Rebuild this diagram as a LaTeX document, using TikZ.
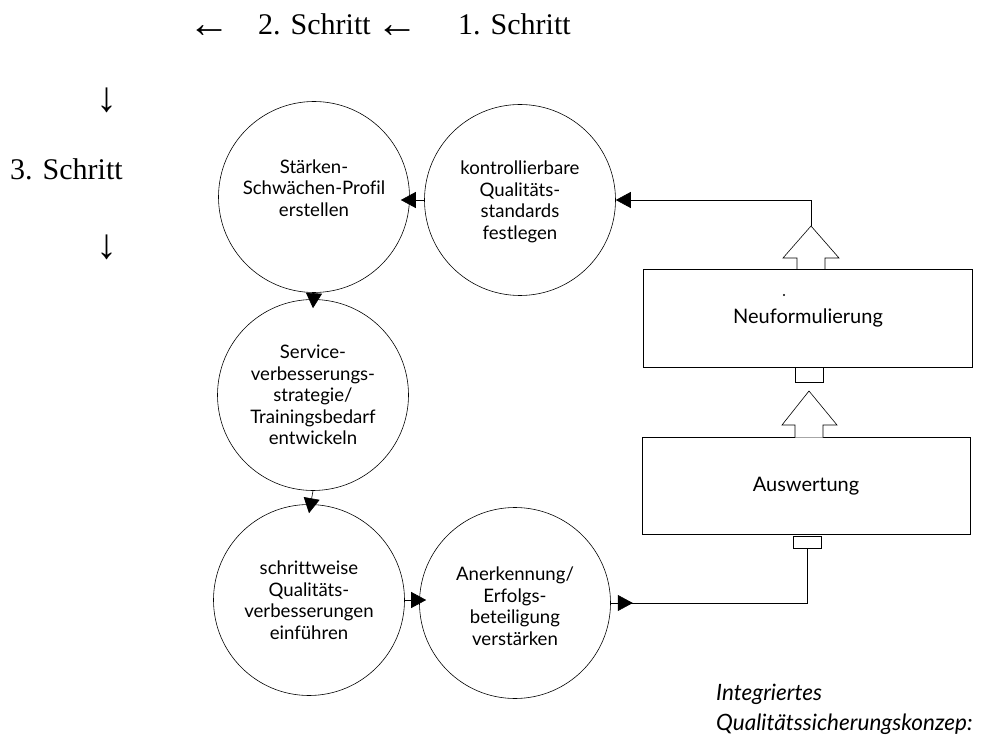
\documentclass[tikz,border=0pt]{standalone}
\usepackage{fontspec}
\setmainfont{Liberation Serif}
\newfontfamily\diag[Ligatures=NoCommon]{Lato}
\usetikzlibrary{arrows.meta,calc}
\begin{document}
\begin{tikzpicture}[x=1pt,y=-1pt,
  stepcirc/.style={circle,draw,line width=0.6pt,minimum size=191pt,inner sep=0pt},
  circtext/.style={align=center,inner sep=0pt,font=\diag\fontsize{18.6}{21.5}\selectfont},
  bigbox/.style={draw,line width=0.6pt,inner sep=0pt,font=\diag\fontsize{20}{24}\selectfont},
  tabbox/.style={draw,line width=0.6pt,inner sep=0pt,minimum width=28pt},
  conn/.style={line width=0.6pt},
  tipped/.style={-{Triangle[length=15pt,width=16pt]}},
  hollow/.style={draw,line width=0.6pt,fill=white},
  steptext/.style={font=\fontsize{30}{34}\selectfont,inner sep=0pt,anchor=base west},
  steparrow/.style={font=\fontsize{42}{46}\selectfont,inner sep=0pt},
  harrow/.style={steparrow,anchor=base,text height=16pt,text depth=0pt},
  captext/.style={font=\diag\itshape\fontsize{22.5}{26}\selectfont,inner sep=0pt,anchor=base west}]
\useasboundingbox (0,0) rectangle (1002,735);

% step labels
\node[harrow] (s2arrow) at (209,38) {←};
\node[steptext] (s2) at (258,35) {2. Schritt};
\node[harrow] (s1arrow) at (397,38) {←};
\node[steptext] (s1) at (458,35) {1. Schritt};
\node[steparrow] (d1) at (107,100) {↓};
\node[steptext] (s3) at (10,180) {3. Schritt};
\node[steparrow] (d2) at (107,247) {↓};

% circles
\node[stepcirc] (c1) at (314,197) {};
\node[stepcirc] (c2) at (520,200) {};
\node[stepcirc] (c3) at (313,395) {};
\node[stepcirc] (c4) at (309,600) {};
\node[stepcirc] (c5) at (515,603) {};

\node[circtext] (t1) at ($(c1)+(0,-9)$) {Stärken-\\Schwächen-Profil\\erstellen};
\node[circtext] (t2) at ($(c2)+(0,2)$) {kontrollierbare\\Qualitäts-\\standards\\festlegen};
\node[circtext] (t3) at (c3) {Service-\\verbesserungs-\\strategie/\\Trainingsbedarf\\entwickeln};
\node[circtext] (t4) at (c4) {schrittweise\\Qualitäts-\\verbesserungen\\einführen};
\node[circtext] (t5) at ($(c5)+(0,3)$) {Anerkennung/\\Erfolgs-\\beteiligung\\verstärken};

% boxes
\node[bigbox,minimum width=329pt,minimum height=98pt] (neu) at (808,318) {Neuformulierung};
\node[bigbox,minimum width=328pt,minimum height=97pt] (aw) at (806,486) {Auswertung};
\node[tabbox,minimum height=15pt,anchor=north] (ntab) at (809,367) {};
\node[tabbox,minimum height=12pt,anchor=north] (awtab) at (807.5,535.5) {};
\fill (784,295) circle (1.1pt);

% hollow arrows
\coordinate (a1tip) at (809,391);
\draw[hollow] (795,437.5) -- (795,425) -- (782,425) -- (a1tip) -- (837,425) -- (823,425) -- (823,437.5);
\coordinate (a2tip) at (811,226);
\draw[hollow] (797,269) -- (797,258) -- (783,258) -- (a2tip) -- (839,258) -- (825,258) -- (825,269);

% connectors
\draw[conn,tipped] (c2.west) -- ($(c1.east |- c2.west)+(-9,0)$);
\draw[conn,tipped] (c1.south) -- ($(c3.north)+(0,9)$);
\draw[conn,tipped] (c3.south) -- ($(c4.north)+(0,9)$);
\draw[conn,tipped] (c4.east) -- ($(c5.west |- c4.east)+(7,0)$);
\draw[conn] (c5.east) -| (awtab.south);
\draw[conn,tipped] (c5.east) -- ++(22,0);
\draw[conn,tipped] (a2tip) |- (c2.east);

% caption
\node[captext] (cap1) at (716,700) {Integriertes};
\node[captext] (cap2) at (716,730) {Qualitätssicherungskonzep:};
\end{tikzpicture}
\end{document}
